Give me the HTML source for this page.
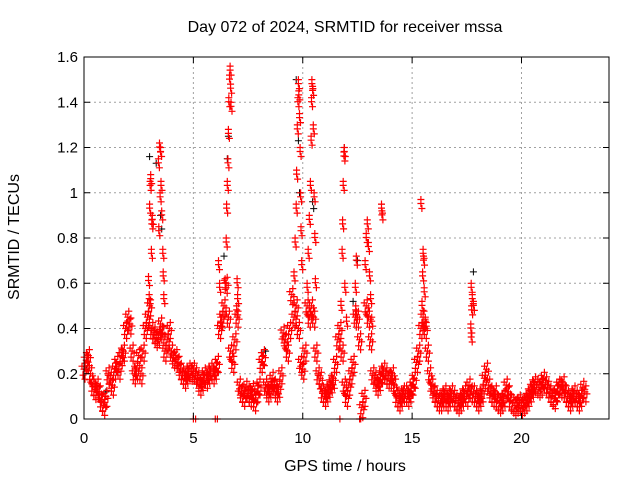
<!DOCTYPE html>
<html><head><meta charset="utf-8"><style>
html,body{margin:0;padding:0;background:#fff}
svg{display:block;font-family:"Liberation Sans",sans-serif}
</style></head><body>
<svg id="chart" width="640" height="480" viewBox="0 0 640 480" xmlns="http://www.w3.org/2000/svg">
<rect width="640" height="480" fill="#fff"/>
<text x="345" y="32" font-size="16" text-anchor="middle">Day 072 of 2024, SRMTID for receiver mssa</text>
<text x="345" y="471" font-size="16" text-anchor="middle">GPS time / hours</text>
<text x="19" y="237" font-size="16" text-anchor="middle" transform="rotate(-90 19 237)">SRMTID / TECUs</text>
<g id="grid"></g>
<g id="marks"></g>
<g id="axes"></g>
</svg>
<script>
const xTicks=[0,5,10,15,20];
const yTicks=[0,0.2,0.4,0.6,0.8,1,1.2,1.4,1.6];
const yTickLabels=["0","0.2","0.4","0.6","0.8","1","1.2","1.4","1.6"];
const baseStart=0, baseStep=0.1;
const redBase=[0.22,0.26,0.28,0.2,0.15,0.13,0.15,0.12,0.08,0.06,
0.1,0.2,0.18,0.15,0.22,0.25,0.22,0.28,0.3,0.4,
0.45,0.42,0.3,0.2,0.22,0.28,0.2,0.3,0.4,0.45,
0.5,0.4,0.38,0.36,0.37,0.42,0.38,0.3,0.35,0.4,
0.3,0.27,0.28,0.25,0.22,0.2,0.18,0.2,0.22,0.21,
0.22,0.2,0.18,0.15,0.17,0.2,0.18,0.2,0.22,0.2,
0.22,0.25,0.4,0.45,0.5,0.6,0.45,0.3,0.25,0.35,
0.45,0.15,0.12,0.1,0.14,0.12,0.1,0.13,0.08,0.12,
0.15,0.25,0.28,0.15,0.12,0.14,0.18,0.15,0.12,0.14,
0.2,0.38,0.35,0.3,0.4,0.55,0.45,0.5,0.4,0.25,
0.22,0.3,0.5,0.45,0.5,0.45,0.3,0.2,0.18,0.12,
0.1,0.12,0.14,0.16,0.18,0.25,0.35,0.4,0.3,0.15,
0.1,0.15,0.2,0.25,0.45,0.45,0.35,0.05,0.1,0.5,
0.45,0.35,0.2,0.18,0.15,0.17,0.2,0.22,0.2,0.18,
0.18,0.2,0.15,0.1,0.08,0.1,0.12,0.12,0.1,0.12,
0.15,0.18,0.25,0.3,0.4,0.45,0.4,0.3,0.2,0.15,
0.12,0.1,0.08,0.08,0.1,0.12,0.08,0.1,0.12,0.1,
0.08,0.07,0.08,0.1,0.12,0.1,0.15,0.12,0.12,0.1,
0.08,0.1,0.12,0.18,0.22,0.15,0.12,0.1,0.12,0.08,
0.07,0.08,0.1,0.15,0.12,0.08,0.07,0.06,0.07,0.08,
0.06,0.07,0.08,0.1,0.12,0.14,0.16,0.15,0.14,0.15,
0.18,0.16,0.14,0.12,0.1,0.09,0.12,0.15,0.14,0.16,
0.12,0.1,0.08,0.1,0.12,0.1,0.08,0.1,0.14,0.12];
const spikeT=[2.95,3.0,3.02,3.05,3.1,3.12,3.08,2.98,3.4,3.45,3.5,3.48,3.42,3.55,3.6,3.62,3.65,3.52,
6.45,6.5,6.52,6.55,6.58,6.6,6.62,6.65,6.68,6.7,6.72,6.15,6.2,6.25,7.0,7.02,6.98,
9.6,9.65,9.7,9.72,9.75,9.78,9.8,9.82,9.85,9.88,9.9,9.92,9.95,
10.2,10.25,10.3,10.35,10.38,10.4,10.42,10.45,10.48,10.52,10.55,10.58,
11.75,11.8,11.82,11.85,11.88,11.9,11.92,12.0,12.4,12.45,12.42,
12.85,12.9,12.95,13.0,13.05,13.1,13.15,13.6,13.62,
15.4,15.5,15.52,15.48,15.55,15.45,15.6,17.7,17.75,17.72,17.8,17.68,17.7,
5.0,5.1,6.0,6.1,11.7,12.6,12.65];
const spikeV=[0.63,0.95,1.05,1.08,0.88,0.9,0.75,0.55,1.15,1.22,1.2,1.0,0.85,0.92,0.75,0.65,0.55,1.05,
0.62,0.8,0.95,1.05,1.15,1.28,1.42,1.52,1.56,1.48,1.4,0.7,0.6,0.45,0.62,0.55,0.5,
0.65,0.8,0.95,1.1,1.3,1.42,1.5,1.45,1.35,1.2,1.0,0.85,0.7,
0.6,0.75,0.9,1.05,1.25,1.42,1.5,1.47,1.3,1.0,0.82,0.62,
0.52,0.75,0.88,1.05,1.18,1.2,0.6,0.45,0.6,0.72,0.5,
0.7,0.82,0.88,0.78,0.65,0.55,0.45,0.95,0.92,
0.97,0.75,0.72,0.65,0.58,0.52,0.45,0.6,0.55,0.5,0.52,0.42,0.38,
0,0,0,0,0,0,0];
const blackT=[0.1,1.0,3.0,3.3,3.5,3.55,6.4,6.55,6.6,9.7,9.8,9.85,10.45,10.5,11.9,12.3,12.5,13.6,17.8,8.3];
const blackV=[0.22,0.12,1.16,1.13,0.9,0.84,0.72,1.15,1.25,1.5,1.23,1.0,0.96,0.93,1.2,0.52,0.7,0.95,0.65,0.3];

const L=84,R=609,T=57,B=419;
const xS=t=>L+(t/24)*(R-L);
const yS=v=>B-(v/1.6)*(B-T);
const NS="http://www.w3.org/2000/svg";
function mk(tag,attrs,parent){const e=document.createElementNS(NS,tag);for(const k in attrs)e.setAttribute(k,attrs[k]);parent.appendChild(e);return e;}
const grid=document.getElementById('grid'),marks=document.getElementById('marks'),axes=document.getElementById('axes');
yTicks.forEach((v,i)=>{
  if(v>0&&v<1.6){const g=mk('line',{x1:L,x2:R,y1:yS(v),y2:yS(v),stroke:'#a0a0a0','stroke-dasharray':'2,3','stroke-width':1},grid);
  
  }
  const t1=mk('line',{x1:L,x2:L+6,y1:yS(v),y2:yS(v),stroke:'#000'},axes);
  
  
  const t2=mk('line',{x1:R-6,x2:R,y1:yS(v),y2:yS(v),stroke:'#000'},axes);
  
  
  const lb=mk('text',{x:L-6,y:yS(v)+5,'font-size':15,'text-anchor':'end'},axes);
  lb.textContent=yTickLabels[i];
  
  
});
xTicks.forEach(t=>{
  if(t>0){const g=mk('line',{x1:xS(t),x2:xS(t),y1:T,y2:B,stroke:'#a0a0a0','stroke-dasharray':'2,3','stroke-width':1},grid);
  
  }
  const t1=mk('line',{x1:xS(t),x2:xS(t),y1:B-6,y2:B,stroke:'#000'},axes);
  
  
  const t2=mk('line',{x1:xS(t),x2:xS(t),y1:T,y2:T+6,stroke:'#000'},axes);
  
  
  const lb=mk('text',{x:xS(t),y:B+24,'font-size':15,'text-anchor':'middle'},axes);
  lb.textContent=String(t);
  
  
});
const frame=mk('rect',{x:L,y:T,width:R-L,height:B-T,fill:'none',stroke:'#000','stroke-width':1},axes);


let dR='',dK='';
function plus(x,y){return `M${(x-3.5).toFixed(1)} ${y.toFixed(1)}h7M${x.toFixed(1)} ${(y-3.5).toFixed(1)}v7`;}
blackT.forEach((t,i)=>{dK+=plus(xS(t),yS(blackV[i]));});
redBase.forEach((v,i)=>{
  const t=baseStart+i*baseStep;
  const x=xS(t),y=yS(v);
  // dense cluster marker around each sampled value
  dR+=plus(x,y);
  dR+=plus(x+1,y-6);
  dR+=plus(x-1,y+6);
  dR+=plus(x+2,y+2);
  dR+=plus(x-2,y-3);
  dR+=plus(x+1,y+10);
});
spikeT.forEach((t,i)=>{
  const x=xS(t),y=yS(spikeV[i]);
  dR+=plus(x,y);
  if(spikeV[i]>0){dR+=plus(x,y+4);dR+=plus(x+1,y+9);}
});
const pk=mk('path',{d:dK,stroke:'#000','stroke-width':1,fill:'none'},marks);


const pr=mk('path',{d:dR,stroke:'#ff0000','stroke-width':1.2,fill:'none'},marks);


</script>
</body></html>
